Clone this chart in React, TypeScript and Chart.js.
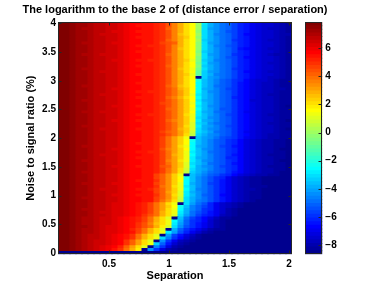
import React, { useEffect, useRef } from 'react';
import { Chart, registerables } from 'chart.js';

Chart.register(...registerables);

const TITLE = 'The logarithm to the base 2 of (distance error / separation)';
const X_LABEL = 'Separation';
const Y_LABEL = 'Noise to signal ratio (%)';

// Column centres (separation) and row centres (noise to signal ratio, %)
const separation = [
  0.1, 0.15, 0.2, 0.25, 0.3, 0.35, 0.4, 0.45, 0.5, 0.55, 0.6, 0.65, 0.7, 0.75, 0.8, 0.85, 0.9, 0.95, 1,
  1.05, 1.1, 1.15, 1.2, 1.25, 1.3, 1.35, 1.4, 1.45, 1.5, 1.55, 1.6, 1.65, 1.7, 1.75, 1.8, 1.85, 1.9, 1.95, 2,
];
const noise = [
  0, 0.05, 0.1, 0.15, 0.2, 0.25, 0.3, 0.35, 0.4, 0.45, 0.5, 0.55, 0.6, 0.65, 0.7, 0.75, 0.8, 0.85, 0.9, 0.95,
  1, 1.05, 1.1, 1.15, 1.2, 1.25, 1.3, 1.35, 1.4, 1.45, 1.5, 1.55, 1.6, 1.65, 1.7, 1.75, 1.8, 1.85, 1.9, 1.95,
  2, 2.05, 2.1, 2.15, 2.2, 2.25, 2.3, 2.35, 2.4, 2.45, 2.5, 2.55, 2.6, 2.65, 2.7, 2.75, 2.8, 2.85, 2.9, 2.95,
  3, 3.05, 3.1, 3.15, 3.2, 3.25, 3.3, 3.35, 3.4, 3.45, 3.5, 3.55, 3.6, 3.65, 3.7, 3.75, 3.8, 3.85, 3.9, 3.95,
  4,
];

const xTicks = [0.5, 1, 1.5, 2];
const yTicks = [0, 0.5, 1, 1.5, 2, 2.5, 3, 3.5, 4];
const colorbarTicks = [-8, -6, -4, -2, 0, 2, 4, 6];

// Colour limits of the log2 values
const C_MIN = -8.65;
const C_MAX = 7.85;

// log2(distance error / separation), quantised to the 64 steps of the colour scale.
// One character per cell: index into LEVELS ('.' = -Inf, i.e. zero error).
// Rows listed from the top (noise 4) to the bottom (noise 0).
const LEVELS = '0123456789ABCDEFGHIJKLMNOPQRSTUVWXYZabcdefghijklmnopqrstuvwxyz@#';
const log2RowsTopDown = [
  '##@zzyxxwwvuttssrqolifdX' + 'MIGEDB986544321',
  '##@zzyxxwwvutsssrqolifdX' + 'LIGEDB986544321',
  '##@zyyxxwwvuttssrqnlifdX' + 'LHGEDB986543321',
  '##@zzyxxwvvutsssrqolifdW' + 'LIGECB986544321',
  '##@zzyxwwwvuttssrqolhfdX' + 'LIFEDB976544322',
  '##@zzyxxwwvutsssrqoligdW' + 'LIGEDB986544321',
  '##@zzyxxwwvuttssrqnlifdX' + 'KIGEDA986543321',
  '##@zyyxxwvvuttssrponifdW' + 'LHGEDB986544321',
  '##@zzyxxwwvutssrrqolifdW' + 'LIFECB986544321',
  '##@zzyxxwwvuttssrqolhfdW' + 'LIGEDB876543321',
  '##@zzyxxwwvutsssrqolifdV' + 'KIGEDB986544321',
  '##@zyyxwwwvuttssrqnlifdW' + 'LHGEDA986543221',
  '##@zzyxxwwvuttssrqolifdV' + 'LIGECB976544321',
  '##@zzyxxwvvutssrrqoligcV' + 'KIFEDB986544321',
  '##@zzyxxwwvuttssrqolifdU' + 'LHGEDB986543321',
  '##@zzyxxwwvutsssrqnlifdV' + 'KIGEDB986544321',
  '##@zyyxxwwvuttssrqolhfcU' + 'LIGEDA986544321',
  '##@zzyxwwwvuttssrqolifdT' + 'KHGEDB976543321',
  '##@zzyxxwwvutsssrqoligcT' + 'KIFEDB986544321',
  '##@zzyxxwwvuttssrqolifd' + '.' + 'KHGEDB986543321',
  '##@zzyxxwwvuttssrqolifd' + 'OJHFDCA975443211',
  '##@zzyxxwwvutsssrqolifd' + 'NJHFDCA875433211',
  '##@zyyxxwwvuttssrqnlhfd' + 'NJHEDCA875433211',
  '##@zzyxxwvvuttssrqomigd' + 'NIHFDBA875433221',
  '##@zzyxxwwvutssrrqomjgd' + 'NJGFDCA875433211',
  '##@zzyxwwwvuttssrqomjgc' + 'MJHFDCA875432211',
  '##@zzyxxwwvutsssrqnlifd' + 'NJHFDC9875433211',
  '##@zyyxxwwvuttssrqomjgd' + 'MIHFDCA874433211',
  '##@zzyxxwwvuttssrpomjgc' + 'NJHFDCA875433211',
  '##@zzyxxwvvutsssrqomjgd' + 'MJGFDCA875433210',
  '##@zzyxxwwvuttssrqnmjgc' + 'NJHFCCA875433211',
  '##@zyyxwwwvuttssrqomjgd' + 'MIHEDCA865433211',
  '##@zzyxxwwvutssrrqomjfc' + 'MJHFDBA875432211',
  '##@zzyxxwwvuttssrqomjgc' + 'LJGFDCA875433211',
  '##@zzyxxwvvutsssrqnljgc' + 'MIHFDCA875433210',
  '##@zzyxxwwvuttssrqomjgb' + 'LJGEDCA875432211',
  '##@zyyxxwwvuttssrqomjfb' + 'MIHFDBA875433211',
  '##@zzyxwwwvutsssrqomigb' + 'LIGFDCA875433210',
  '##@zzyxxwwvuttssrpnmjga' + 'LJHEDCA865433211',
  '##@zzyxxwwvuttssrqomjfZ' + 'KIGFDCA875432211',
  '##@zzyxxwwvuttssrpmjgc' + '.' + 'JHGECBA865432211',
  '##@zzyxxwwvuttssrpmjgd' + 'OJHFDCA9754322110',
  '##@zzyxxwwvutsssrpmjgd' + 'NJHFDCA9754322110',
  '##@zyyxxwwvuttssrpmjfc' + 'NIHFDBA8754322110',
  '##@zzyxxwvvuttssroljgd' + 'NJGFDCA9754322100',
  '##@zzyxxwwvutssrrpmjgc' + 'MJHEDCA9754322110',
  '##@zzyxwwwvuttssrpmigc' + 'NJHFDCA8754321110',
  '##@zzyxxwwvutsssrpmjgc' + 'MIHFDC99754322110',
  '##@zyyxxwwvuttssrpljfc' + 'MJGFDCA9754322100',
  '##@zzyxxwwvuttssrpmjgb' + 'LJHEDCA8754322110',
  '##@zzyxxwvvutsssronjgb' + 'MIGFDBA9754321110',
  '##@zzyxxwwvuttssrpmjfa' + 'LIHFDCA9754322110',
  '##@zyyxxwwvuttssrpmjfZ' + 'KIGEDCA8754322100',
  '##@zzyxxwwvuttsspnkgc' + '.' + 'JHFDCA97543221100',
  '##@zzyxxwwvuttsspnkgd' + 'OJGECA964321100000',
  '##@zzyxxwwvutsssqnkgd' + 'NJGECA864321100000',
  '##@zyyxxwvvuttsspnkgc' + 'NIGEBA864321100000',
  '##@zzyxxwwvuttssqmkfc' + 'MJGECA864321110000',
  '##@zzyxwwwvutssrpnkgc' + 'NJFECA864322100000',
  '##@zzyxxwwvuttsspnjgb' + 'MIGECA864321100000',
  '##@zzyxxwvvutsssqnkfb' + 'MJGDCA764321100000',
  '##@zyyxxwwvuttsspnkga' + 'LIGECA864321100000',
  '##@zzyxxwwvuttsspmjfZ' + 'LIFECA864321000000',
  '##@zzyxxwvvutsrpmjfc' + '.' + 'LHEC96432100000000',
  '##@zzyxxwvvutsrpmjgd' + 'OJFDB96432100000000',
  '##@zyyxxwvvutsrpmjfc' + 'NIFDA96421000000000',
  '##@zzyxwwvvutsrpmifc' + 'MIECA86421000000000',
  '##@zzyxxwvvutsqomifb' + 'LHEB986321000000000',
  '##@zyyxwwvutsrpmifb' + '.' + 'JEB9753110000000000',
  '##@zyyxwwvutsrpmifc' + 'NIDA9742100000000000',
  '##@zyyxwwvutsqolhfc' + 'MHDA8642100000000000',
  '##@zzyxwvvutsqomiea' + 'LGCA8642100000000000',
  '##@zyyxwvvutrpmifb' + '.' + 'IDA86421100000000000',
  '##@zyyxwvvutspmifc' + 'MHC96421000000000000' + '0',
  '##@zyxxwvutsqmifb' + '.' + 'HB8531000000000000000',
  '##@zyxxwvutsqmifc' + 'LFA7421000000000000000',
  '##@zyxwwvutqnjfb' + '.' + 'GA63210000000000000000',
  '##@zyxwwvutqnjfc' + 'KD842100000000000000000',
  '##@zyxwvutrnjfb' + '.' + 'FA521000000000000000000',
  '##@zyxwvusqmie' + '.' + 'GA5210000000000000000000',
  '.......................................',
];

const FONT = "'Liberation Sans', Arial, Helvetica, sans-serif";
const tickFont = { family: FONT, size: 10, weight: 'bold' as const };
const labelFont = { family: FONT, size: 11, weight: 'bold' as const };
const INK = '#000000';
const FRAME = '#262626';

function jet(k: number): string {
  let r = 0, g = 0, b = 0;
  if (k < 8) b = (9 + k) / 16;
  else if (k < 24) { g = (k - 7) / 16; b = 1; }
  else if (k < 40) { r = (k - 23) / 16; g = 1; b = (39 - k) / 16; }
  else if (k < 56) { r = 1; g = (55 - k) / 16; }
  else r = (71 - k) / 16;
  return `rgb(${Math.round(r * 255)},${Math.round(g * 255)},${Math.round(b * 255)})`;
}

const levelStep = (C_MAX - C_MIN) / 64;

function cellValue(noiseIndex: number, sepIndex: number): number {
  const row = log2RowsTopDown[noise.length - 1 - noiseIndex];
  if (!row || row.length !== separation.length) console.error('bad row', noiseIndex, row && row.length);
  const ch = row[sepIndex];
  if (ch === '.' || ch === undefined) return -Infinity;
  return C_MIN + (LEVELS.indexOf(ch) + 0.5) * levelStep;
}

function colorForValue(v: number): string {
  if (!isFinite(v)) return jet(0);
  const k = Math.max(0, Math.min(63, Math.floor(((v - C_MIN) / (C_MAX - C_MIN)) * 64)));
  return jet(k);
}

function frameWithTicks(tickSides: { x: boolean; yLeft: boolean; yRight: boolean }) {
  return {
    id: 'frameWithTicks',
    afterDatasetsDraw(chart: any) {
      const { ctx, chartArea: a } = chart;
      const L = Math.round(a.left) + 0.5;
      const R = Math.round(a.right) - 0.5;
      const T = Math.round(a.top) + 0.5;
      const B = Math.round(a.bottom) - 0.5;
      ctx.save();
      ctx.strokeStyle = FRAME;
      ctx.lineWidth = 1;
      ctx.beginPath();
      const len = 3;
      const ys = chart.scales.y;
      if (tickSides.x) {
        const xs = chart.scales.x;
        xs.ticks.forEach((t: any) => {
          const px = Math.round(xs.getPixelForValue(t.value)) + 0.5;
          ctx.moveTo(px, T); ctx.lineTo(px, T + len);
          ctx.moveTo(px, B); ctx.lineTo(px, B - len);
        });
      }
      ys.ticks.forEach((t: any) => {
        const py = Math.round(ys.getPixelForValue(t.value)) + 0.5;
        if (tickSides.yLeft) { ctx.moveTo(L, py); ctx.lineTo(L + len, py); }
        if (tickSides.yRight) { ctx.moveTo(R, py); ctx.lineTo(R - len, py); }
      });
      ctx.stroke();
      ctx.strokeRect(L, T, R - L, B - T);
      ctx.restore();
    },
  };
}

// The main canvas is 414 px wide and shifted 32 px left so that the chart title
// (centred on the canvas) sits centred over the plot area, as in the original.
const MAIN_W = 414;
const MAIN_SHIFT = 32;

export default function App() {
  const mainRef = useRef<HTMLCanvasElement>(null);
  const barRef = useRef<HTMLCanvasElement>(null);

  useEffect(() => {
    Chart.defaults.font.family = FONT;
    const halfCol = (separation[1] - separation[0]) / 2;
    const halfRow = (noise[1] - noise[0]) / 2;

    const datasets = noise.map((n, ni) => ({
      label: `noise ${n}`,
      xAxisID: 'x',
      yAxisID: 'y',
      data: separation.map((s) => ({ x: s, y: [n - halfRow, n + halfRow] })),
      backgroundColor: separation.map((_, si) => colorForValue(cellValue(ni, si))),
      borderWidth: 0,
      grouped: false,
      barPercentage: 1,
      categoryPercentage: 1,
      inflateAmount: 0.5,
    }));

    const main = new Chart(mainRef.current as HTMLCanvasElement, {
      type: 'bar',
      data: { datasets: datasets as any },
      options: {
        responsive: false,
        animation: false,
        devicePixelRatio: 1,
        events: [],
        layout: { padding: 0 },
        plugins: {
          legend: { display: false },
          tooltip: { enabled: false },
          title: {
            display: true,
            text: TITLE,
            color: INK,
            font: labelFont,
            align: 'center',
            padding: { top: 2.9, bottom: 5.9 },
          },
        },
        scales: {
          x: {
            type: 'linear',
            position: 'bottom',
            offset: false,
            min: separation[0] - halfCol,
            max: separation[separation.length - 1] + halfCol,
            afterBuildTicks: (s: any) => { s.ticks = xTicks.map((v) => ({ value: v })); },
            afterFit: (s: any) => { s.height = 32.7; },
            grid: { display: false, drawTicks: false },
            border: { display: false },
            ticks: { color: INK, font: tickFont, padding: 4, maxRotation: 0, autoSkip: false, callback: (v: any) => String(v) },
            title: { display: true, text: X_LABEL, color: INK, font: labelFont, padding: { top: 0, bottom: 4 } },
          },
          y: {
            type: 'linear',
            position: 'left',
            min: noise[0] - halfRow,
            max: noise[noise.length - 1] + halfRow,
            afterBuildTicks: (s: any) => { s.ticks = yTicks.map((v) => ({ value: v })); },
            afterFit: (s: any) => { s.width = 58 + MAIN_SHIFT; },
            grid: { display: false, drawTicks: false },
            border: { display: false },
            ticks: { color: INK, font: tickFont, padding: 2, autoSkip: false, callback: (v: any) => String(v) },
            title: { display: true, text: Y_LABEL, color: INK, font: labelFont, padding: { top: 24.4 + MAIN_SHIFT, bottom: 0 } },
          },
          yRight: {
            type: 'linear',
            position: 'right',
            min: 0,
            max: 1,
            afterFit: (s: any) => { s.width = MAIN_W - MAIN_SHIFT - 292; },
            grid: { display: false, drawTicks: false },
            border: { display: false },
            ticks: { display: false },
          },
        },
      } as any,
      plugins: [frameWithTicks({ x: true, yLeft: true, yRight: true })],
    });

    const levelIndexes = Array.from({ length: 64 }, (_, k) => k);
    const cbar = new Chart(barRef.current as HTMLCanvasElement, {
      type: 'bar',
      data: {
        labels: [''],
        datasets: levelIndexes.map((k) => ({
          label: `level ${k}`,
          data: [[C_MIN + k * levelStep, C_MIN + (k + 1) * levelStep]],
          backgroundColor: jet(k),
          borderWidth: 0,
          grouped: false,
          barPercentage: 1,
          categoryPercentage: 1,
          inflateAmount: 0.5,
        })) as any,
      },
      options: {
        responsive: false,
        animation: false,
        devicePixelRatio: 1,
        events: [],
        layout: { padding: { left: 13, right: 0, top: 22, bottom: 32.7 } },
        plugins: { legend: { display: false }, tooltip: { enabled: false } },
        scales: {
          x: { display: false },
          y: {
            position: 'right',
            min: C_MIN,
            max: C_MAX,
            afterBuildTicks: (s: any) => { s.ticks = colorbarTicks.map((v) => ({ value: v })); },
            afterFit: (s: any) => { s.width = 59.7; },
            grid: { display: false, drawTicks: false },
            border: { display: false },
            ticks: {
              color: INK,
              font: tickFont,
              padding: 3,
              autoSkip: false,
              callback: (v: any) => (v < 0 ? '\u2212' + Math.abs(v) : String(v)),
            },
          },
        },
      } as any,
      plugins: [frameWithTicks({ x: false, yLeft: false, yRight: true })],
    });

    return () => {
      main.destroy();
      cbar.destroy();
    };
  }, []);

  return (
    <div style={{ position: 'fixed', left: 0, top: 0, width: 382, height: 287, background: '#ffffff', overflow: 'hidden' }}>
      <canvas ref={mainRef} width={MAIN_W} height={287} style={{ position: 'absolute', left: -MAIN_SHIFT, top: 0 }} />
      <canvas ref={barRef} width={90} height={287} style={{ position: 'absolute', left: 292, top: 0 }} />
    </div>
  );
}
